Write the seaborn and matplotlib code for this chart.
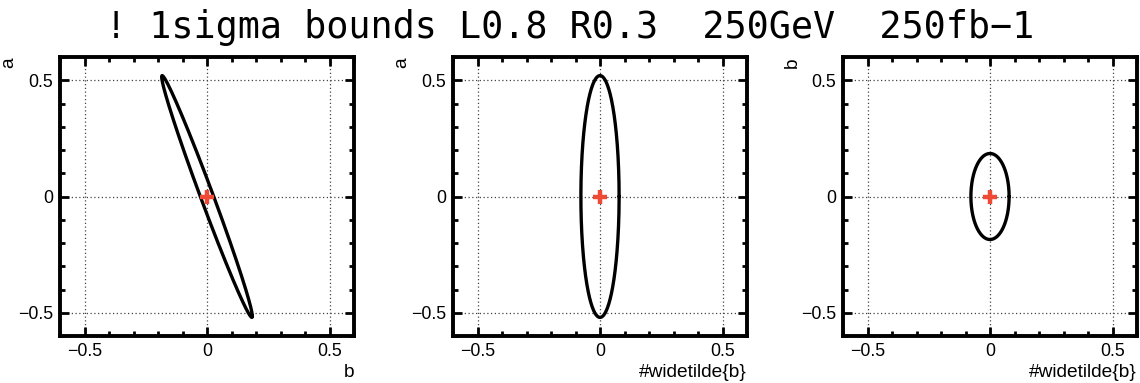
import numpy as np
import pandas as pd
import matplotlib
matplotlib.use("Agg")
import matplotlib.pyplot as plt
from matplotlib.ticker import MultipleLocator
import seaborn as sns

# 1-sigma widths of the fitted parameters and their correlations
param_names = ["a", "b", "bt"]
param_sigma = [0.52, 0.185, 0.078]
corr_pairs = [("b", "a"), ("bt", "a"), ("bt", "b")]   # (x parameter, y parameter)
corr_values = [-0.989, 0.0, 0.0]
x_titles = ["b", "#widetilde{b}", "#widetilde{b}"]
y_titles = ["a", "a", "b"]
best_fit = [0.0, 0.0]
tick_major = [-0.5, 0.0, 0.5]
title = "! 1sigma bounds L0.8 R0.3  250GeV  250fb\u22121"

sigma = dict(zip(param_names, param_sigma))

sns.set_theme(style="white")
plt.rcParams["font.family"] = ["Liberation Sans", "DejaVu Sans"]
plt.rcParams.update({
    "text.color": "black",
    "axes.labelcolor": "black",
    "xtick.color": "black",
    "ytick.color": "black",
})

fig = plt.figure(figsize=(11.4, 3.83), dpi=100)
W, H = 1140, 383
lefts = [60, 453, 843]
ax_w, top, bottom = 294, 57, 336

t = np.linspace(0, 2 * np.pi, 400)

for i, ((px, py), rho) in enumerate(zip(corr_pairs, corr_values)):
    ax = fig.add_axes([lefts[i] / W, 1 - bottom / H, ax_w / W, (bottom - top) / H])
    sx, sy = sigma[px], sigma[py]
    ell = pd.DataFrame({
        "x": best_fit[0] + sx * np.cos(t),
        "y": best_fit[1] + sy * (rho * np.cos(t) + np.sqrt(1 - rho ** 2) * np.sin(t)),
    })
    sns.lineplot(data=ell, x="x", y="y", sort=False, estimator=None,
                 color="black", linewidth=2.4, ax=ax)
    ax.plot([best_fit[0]], [best_fit[1]], marker="+", markersize=10,
            markeredgewidth=3.2, color="#ef4a36", zorder=5)

    ax.set_xlim(-0.6, 0.6)
    ax.set_ylim(-0.6, 0.6)
    ax.set_xticks(tick_major)
    ax.set_yticks(tick_major)
    ax.set_xticklabels(["\u22120.5", "0", "0.5"])
    ax.set_yticklabels(["\u22120.5", "0", "0.5"])
    ax.xaxis.set_minor_locator(MultipleLocator(0.1))
    ax.yaxis.set_minor_locator(MultipleLocator(0.1))
    ax.tick_params(which="both", direction="in", top=True, right=True,
                   bottom=True, left=True, labelsize=12.8, pad=5, colors="black")
    ax.tick_params(which="major", length=6.5, width=2)
    ax.tick_params(which="minor", length=3.6, width=2)
    for sp in ax.spines.values():
        sp.set_linewidth(2.8)
        sp.set_color("black")
    ax.grid(True, which="major", linestyle=(0, (1, 2)), linewidth=0.9, color="#444444")

    ax.set_xlabel(x_titles[i], loc="right", fontsize=13.8, color="black")
    ax.set_ylabel(y_titles[i], loc="top", fontsize=13.8, color="black")
    ax.xaxis.set_label_coords(1.0, -0.1)
    ax.yaxis.set_label_coords(-0.145, 1.0)

fig.text(0.5, 1 - 38 / H, title, ha="center", va="baseline", color="black",
         fontsize=26.5, family="DejaVu Sans Mono")

fig.savefig("out.png", dpi=100)
